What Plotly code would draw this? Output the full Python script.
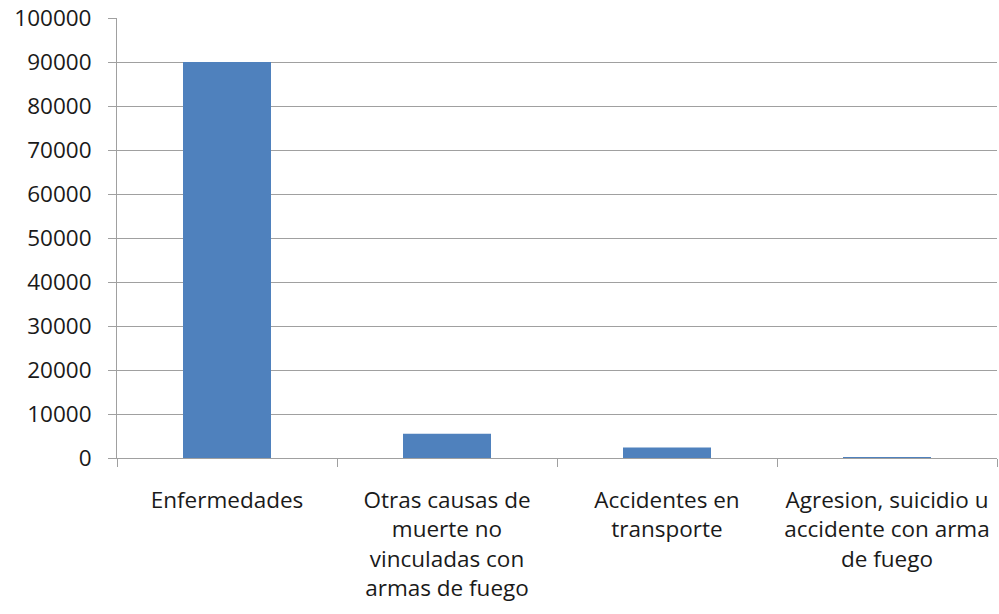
import plotly.graph_objects as go

categories = [
    "Enfermedades",
    "Otras causas de<br>muerte no<br>vinculadas con<br>armas de fuego",
    "Accidentes en<br>transporte",
    "Agresion, suicidio u<br>accidente con arma<br>de fuego",
]
values = [90000, 5500, 2400, 50]
y_ticks = list(range(0, 100001, 10000))

fig = go.Figure(
    go.Bar(
        x=categories,
        y=values,
        width=0.4,
        marker=dict(color="#4F81BD", line=dict(width=0)),
        hoverinfo="skip",
    )
)

font_family = "Open Sans, Lato, sans-serif"
fig.update_layout(
    width=999,
    height=614,
    margin=dict(l=117, r=2, t=18, b=156, autoexpand=False),
    paper_bgcolor="white",
    plot_bgcolor="white",
    showlegend=False,
    font=dict(family=font_family, size=22, color="#1a1a1a"),
)
fig.update_xaxes(
    type="category",
    tickson="boundaries",
    ticks="outside",
    ticklen=8,
    tickcolor="#a0a0a0",
    showline=True,
    linecolor="#a0a0a0",
    linewidth=1,
    showgrid=False,
    automargin=False,
    tickfont=dict(size=22.5),
    ticklabelstandoff=22,
)
fig.update_yaxes(
    range=[0, 100000],
    tickvals=y_ticks,
    ticktext=[str(v) for v in y_ticks],
    ticks="outside",
    ticklen=8,
    tickcolor="#a0a0a0",
    showline=True,
    linecolor="#a0a0a0",
    linewidth=1,
    showgrid=True,
    gridcolor="#a0a0a0",
    gridwidth=1,
    zeroline=False,
    automargin=False,
    tickfont=dict(size=22.5),
    ticklabelstandoff=12,
)

fig.write_html(
    "out.html",
    config={"displayModeBar": False},
    post_script="document.body.style.margin='0';document.body.style.overflow='hidden';",
)
